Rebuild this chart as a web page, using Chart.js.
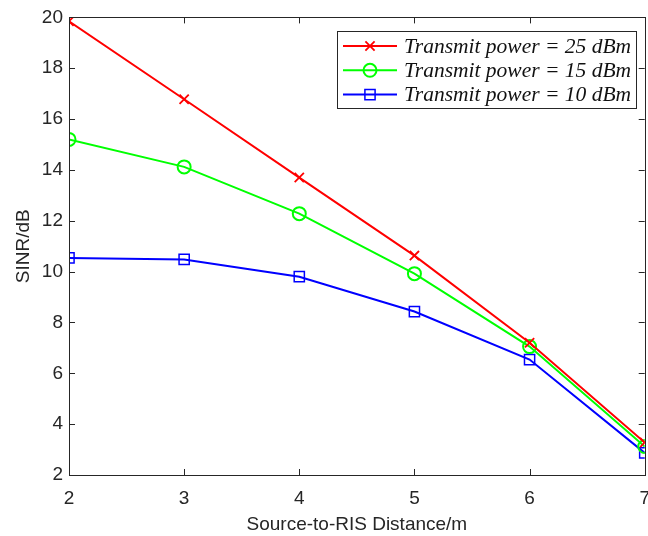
<!DOCTYPE html>
<html>
<head>
<meta charset="utf-8">
<script src="https://cdn.jsdelivr.net/npm/chart.js@4"></script>
<style>
  html, body { margin: 0; padding: 0; background: #fff; overflow: hidden; }
  #wrap { width: 648px; height: 536px; overflow: hidden; }
</style>
</head>
<body>
<div id="wrap"><canvas id="lineChart" width="662" height="536"></canvas></div>
<script>
// data
const distances = [2, 3, 4, 5, 6, 7];
const yTicks = [2, 4, 6, 8, 10, 12, 14, 16, 18, 20];
const sinr25 = [19.85, 16.78, 13.7, 10.63, 7.2, 3.28];
const sinr15 = [15.2, 14.12, 12.28, 9.92, 7.05, 3.12];
const sinr10 = [10.54, 10.48, 9.8, 8.43, 6.54, 2.87];
const seriesLabels = ['Transmit power = 25 dBm', 'Transmit power = 15 dBm', 'Transmit power = 10 dBm'];

const AXIS = '#262626';
const FONT = '"Liberation Sans", Arial, sans-serif';

function pts(ys) {
  return ys.map((y, i) => ({ x: distances[i], y: y }));
}

// matlab style box with inward ticks + legend in upper right
const boxPlugin = {
  id: 'box',
  afterDraw(chart) {
    const ctx = chart.ctx;
    const a = chart.chartArea;
    const xs = chart.scales.x, ys = chart.scales.y;
    ctx.save();
    ctx.strokeStyle = AXIS;
    ctx.lineWidth = 1;
    ctx.strokeRect(Math.round(a.left) + 0.5, Math.round(a.top) + 0.5,
      Math.round(a.right - a.left), Math.round(a.bottom - a.top));
    ctx.beginPath();
    distances.forEach(v => {
      const px = Math.round(xs.getPixelForValue(v)) + 0.5;
      ctx.moveTo(px, a.bottom); ctx.lineTo(px, a.bottom - 6);
      ctx.moveTo(px, a.top); ctx.lineTo(px, a.top + 6);
    });
    yTicks.forEach(v => {
      const py = Math.round(ys.getPixelForValue(v)) + 0.5;
      ctx.moveTo(a.left, py); ctx.lineTo(a.left + 6, py);
      ctx.moveTo(a.right, py); ctx.lineTo(a.right - 6, py);
    });
    ctx.stroke();

    // legend
    const lx = 337.5, ly = 31.5, lw = 299, lh = 77;
    ctx.fillStyle = '#fff';
    ctx.fillRect(lx, ly, lw, lh);
    ctx.strokeStyle = AXIS;
    ctx.strokeRect(lx, ly, lw, lh);
    ctx.font = 'italic 21.5px "Liberation Serif", "Times New Roman", serif';
    ctx.textBaseline = 'middle';
    chart.data.datasets.forEach((ds, i) => {
      const cy = 46 + i * 24.3;
      ctx.strokeStyle = ds.borderColor;
      ctx.lineWidth = 2;
      ctx.beginPath();
      ctx.moveTo(343, cy); ctx.lineTo(397, cy);
      ctx.stroke();
      ctx.fillStyle = 'rgba(0,0,0,0)';
      ctx.lineWidth = ds.pointBorderWidth;
      Chart.helpers.drawPoint(ctx, {
        pointStyle: ds.pointStyle, radius: ds.pointRadius, rotation: 0,
        borderWidth: ds.pointBorderWidth
      }, 370, cy);
      ctx.fillStyle = '#111';
      ctx.fillText(ds.label, 404, cy + 1);
    });
    ctx.restore();
  }
};

const CHART = document.getElementById('lineChart');

new Chart(CHART, {
  type: 'line',
  data: {
    datasets: [
      {
        label: seriesLabels[0],
        data: pts(sinr25),
        borderColor: '#ff0000',
        backgroundColor: 'rgba(0,0,0,0)',
        pointStyle: 'crossRot',
        pointRadius: 6.5,
        pointBorderWidth: 1.8,
        borderWidth: 2
      },
      {
        label: seriesLabels[1],
        data: pts(sinr15),
        borderColor: '#00ff00',
        backgroundColor: 'rgba(0,0,0,0)',
        pointStyle: 'circle',
        pointRadius: 6.5,
        pointBorderWidth: 2,
        borderWidth: 2
      },
      {
        label: seriesLabels[2],
        data: pts(sinr10),
        borderColor: '#0000ff',
        backgroundColor: 'rgba(0,0,0,0)',
        pointStyle: 'rect',
        pointRadius: 7.2,
        pointBorderWidth: 1.5,
        borderWidth: 2
      }
    ]
  },
  options: {
    responsive: false,
    animation: false,
    devicePixelRatio: 1,
    layout: { padding: { top: 17, right: 12, bottom: 0, left: 0 } },
    plugins: {
      legend: { display: false },
      tooltip: { enabled: false }
    },
    scales: {
      x: {
        type: 'linear',
        min: 2, max: 7,
        afterBuildTicks(s) { s.ticks = distances.map(v => ({ value: v })); },
        afterFit(s) { s.height = 61; },
        grid: { display: false, drawTicks: false, tickLength: 0 },
        border: { display: false },
        ticks: { color: AXIS, font: { family: FONT, size: 19 }, padding: 12, maxRotation: 0 },
        title: { display: true, text: 'Source-to-RIS Distance/m', color: AXIS,
                 font: { family: FONT, size: 19 }, padding: { top: 4, bottom: 0 } }
      },
      y: {
        min: 2, max: 20,
        afterBuildTicks(s) { s.ticks = yTicks.map(v => ({ value: v })); },
        afterFit(s) { s.width = 69; },
        grid: { display: false, drawTicks: false, tickLength: 0 },
        border: { display: false },
        ticks: { color: AXIS, font: { family: FONT, size: 19 }, padding: 6 },
        title: { display: true, text: 'SINR/dB', color: AXIS,
                 font: { family: FONT, size: 19 }, padding: { top: 12, bottom: 0 } }
      }
    }
  },
  plugins: [boxPlugin]
});
</script>
</body>
</html>
